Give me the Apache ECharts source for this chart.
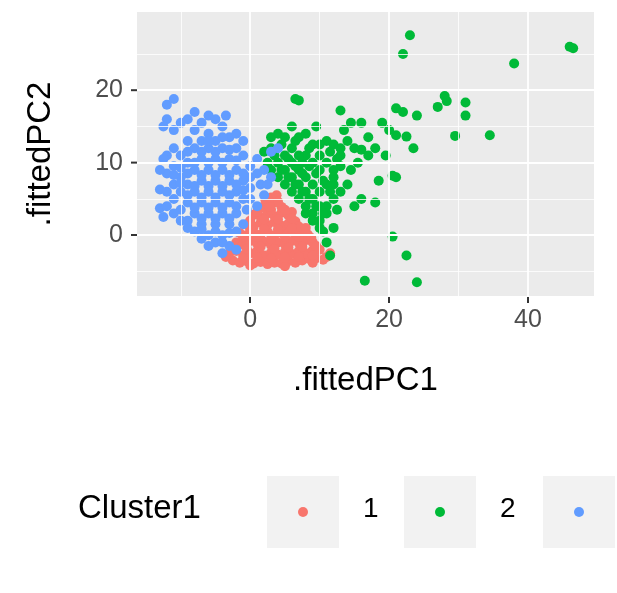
<!DOCTYPE html>
<html>
<head>
<meta charset="utf-8">
<script src="https://cdn.jsdelivr.net/npm/echarts@6/dist/echarts.min.js"></script>
<style>html,body{margin:0;padding:0;background:#fff}#c{width:617px;height:593px}</style>
</head>
<body>
<div id="c"></div>
<script>
var xTicks = [0, 20, 40];
var yTicks = [0, 10, 20];
var xMinor = [-10, 10, 30];
var yMinor = [-5, 5, 15, 25];
var clusterNames = ['1', '2', '3'];
var clusterColors = ['#F8766D', '#00BA38', '#619CFF'];

var cluster1 = [
    [-2.5,-3.5],[-1.5,-3.8],[-0.5,-3.6],[0.5,-3.9],[1.5,-3.7],[2.5,-4],[3.5,-3.8],[4.5,-3.9],[5.5,-3.6],[6.5,-3.8],
    [7.5,-3.5],[8.5,-3.3],[9.5,-3.2],[10.5,-3.4],[-3,-2.5],[-2,-2.2],[-1,-2.8],[0,-2.5],[1,-2.2],[2,-2.8],
    [3,-2.4],[4,-2.7],[5,-2.3],[6,-2.6],[7,-2.2],[8,-2.5],[9,-2.1],[10,-2],[-2,-1],[-1,-1.3],
    [0,-0.8],[1,-1.2],[2,-0.9],[3,-1.4],[4,-1],[5,-1.3],[6,-0.8],[7,-1.1],[8,-0.7],[9,-1],
    [-1.5,0.3],[-0.5,0],[0.5,0.4],[1.5,0.1],[2.5,0.5],[3.5,0],[4.5,0.3],[5.5,0.6],[6.5,0.2],[7.5,0.5],
    [8.3,0.1],[-0.5,1.5],[0.5,1.2],[1.5,1.7],[2.5,1.4],[3.5,1.8],[4.5,1.3],[5.5,1.6],[6.5,1.9],[7,1.2],
    [0.5,2.8],[1.5,2.5],[2.5,3],[3.5,2.6],[4.5,3.1],[5.5,2.7],[6,3.2],[1.5,3.8],[2.5,4.2],[3.5,4.5],
    [4.5,3.9],[3,5.2],[3.8,5.5],[2.2,4.8],[11,-3],[11.5,-2.5],[-3.5,-3],[0,-4.2],[5,-4.3],[9,-3.8],
    [-1,-3.2],[1,-3.1],[3,-3.2],[5,-3.1],[7,-3],[9,-2.8],[-2.5,-1.6],[-0.5,-1.9],[1.5,-1.6],[3.5,-1.9],
    [5.5,-1.7],[7.5,-1.6],[9.5,-1.5],[-1,-0.3],[1,-0.3],[3,-0.5],[5,-0.2],[7,-0.3],[8.8,-0.4],[0,0.8],
    [2,0.9],[4,0.8],[6,1],[8,1],[0,2],[2,2.2],[4,2.2],[6,2.3],[1,3.2],[3,3.5],[5,3.5],[4,4.6],[2.8,3.9]
];
var cluster2 = [
    [46,26],[46.5,25.8],[23,27.6],[22,25],[38,23.7],[31,18.3],[28,19.2],[28.3,18.5],[31,16.5],[34.5,13.8],
    [29.5,13.7],[27,17.7],[21,17.5],[22,17],[22.5,13.6],[21,13.8],[21,8],[20.5,8.2],[20.5,-0.2],[22.5,-2.8],
    [24,-6.5],[16.5,-6.3],[15,4],[18,4.5],[16,5],[13,17.2],[7,18.6],[6.5,18.8],[14,13],[19,15.5],
    [18,12],[17,13.5],[16,11.8],[15.5,10],[14.5,9],[13.5,14.5],[17,11],[19.5,11],[20,14.5],[24,16.5],
    [23.5,12],[18.5,7.5],[14,7],[13,6],[12.5,3.5],[12,1],[11,-1],[10.5,0.5],[11.5,-2.8],[16,15.5],
    [3,9],[4,10],[5,11],[6,12],[7,13.5],[8,14],[9,12.5],[10,11],[11,10],[12,9],
    [4,8],[5,7],[6,6],[7,5],[8,4],[9,3],[10,2],[11,4],[12,7],[13,11],
    [5,9],[6,10],[7,9],[8,8],[9,7],[10,6],[11,7],[12,5],[9,10],[10,9],
    [6,8],[7,7],[8,6],[9,5],[10,4],[11,3],[8,11],[7,11],[3,13.5],[4,14],
    [5,13.5],[2,11.5],[2.5,10],[6,15],[9.5,15],[11,13],[13,12],[12,12.5],[15,12],[14.5,15.5],
    [4.5,9],[5.5,8],[6.5,7],[7.5,6],[8.5,5],[9.5,4],[10.5,3],[6.5,9.5],[7.5,8.5],[8.5,9.5],
    [9.5,8.5],[10.5,7.5],[11.5,6],[5.5,10.5],[7.5,10],[8.5,12],[10,12.5],[11.5,11.5],[12,8],[13,9.5],
    [3.5,11],[4.5,12.5],[6.5,13],[3,12],[9,2],[10,1],[8,3],[12.5,10.5]
];
var cluster3 = [
    [-13,3.7],[-12.5,2.5],[-12,18],[-11,18.8],[-12,16],[-13,6.3],[-12.5,15],[-11,14.5],[-10,15.5],[-9,16],
    [-8,14.5],[-6,14],[-4,15],[-5,13],[-7,13],[-9,13],[-11,12],[-12,11],[-10,11],[-8,12],
    [-6,12],[-4,12],[-2,12],[-3,10.5],[-5,10.5],[-7,10.5],[-9,10],[-11,9.5],[-12,8.5],[-10,8],
    [-8,9],[-6,9],[-4,9],[-2,9],[0,9.5],[1,10.5],[2,9],[3,8],[-1,7.5],[-3,7.5],
    [-5,7.5],[-7,7.5],[-9,7],[-11,7],[-12,6],[-10,6],[-8,6],[-6,6],[-4,6],[-2,6],
    [0,6.5],[1.5,7],[2,5.5],[-1,5],[-3,4.5],[-5,4.5],[-7,4.5],[-9,4.5],[-11,5],[-10,3.5],
    [-8,3],[-6,3],[-4,3],[-2,3],[-0.5,3.5],[1,4],[-1,1.5],[-3,1.5],[-5,1.5],[-7,1.5],
    [-9,2],[-8,0.5],[-6,0],[-4,0],[-2,0.5],[-5,-1],[-3,-1.5],[-4,-2.5],[-2,-2],[-6,-1.5],
    [-7,-0.5],[-9,1],[-12,4],[-11,3],[-10,2],[-6,16.5],[-3,13.5],[-1,11],[0,8],[2.5,7],
    [-13,9],[-12.5,10.5],[-8,17],[-7,15.5],[-5,16],[-3.5,16.5],[-2,14],[3,11.5],[4,12],[-1,13],
    [-7,2.3],[-5,2.3],[-3,2.3],[-6,3.8],[-4,3.8],[-2,4],[-8,3.8],[-7,5.2],[-5,5.2],[-3,5.5],
    [-1,6.2],[-9,5.5],[-8,6.8],[-6,6.8],[-4,6.8],[-2,7],[-10,7.2],[-7,8.3],[-5,8.3],[-3,8.3],
    [-1,8.5],[-9,8.5],[-11,8.3],[-8,10],[-6,10],[-4,10],[-2,10.3],[-10,9.3],[-7,11.5],[-5,11.5],
    [-3,11.8],[-9,11.5],[-6,13],[-4,13.5],[-7,0.8],[-5,0.5],[-3,0.3],[-4,-1],[1,8.5],[0,5]
];

function lineSeries(xs, ys, w) {
    var lines = [];
    xs.forEach(function (v) { lines.push({xAxis: v}); });
    ys.forEach(function (v) { lines.push({yAxis: v}); });
    return {
        type: 'scatter', data: [], silent: true, z: 1,
        markLine: {
            silent: true, symbol: 'none', label: {show: false},
            lineStyle: {color: '#ffffff', width: w, type: 'solid'},
            data: lines, animation: false
        }
    };
}

var series = [lineSeries(xMinor, yMinor, 0.8), lineSeries(xTicks, yTicks, 1.8)];
[cluster1, cluster2, cluster3].forEach(function (d, i) {
    series.push({
        name: clusterNames[i], type: 'scatter', data: d, symbolSize: 10, z: 3,
        itemStyle: {color: clusterColors[i], opacity: 1}
    });
});

var legendItems = [];
var keyX = [267, 404, 543];
clusterNames.forEach(function (n, i) {
    legendItems.push({type: 'rect', shape: {x: keyX[i], y: 476, width: 72, height: 72}, style: {fill: '#F2F2F2'}});
    legendItems.push({type: 'circle', shape: {cx: keyX[i] + 36, cy: 512, r: 5}, style: {fill: clusterColors[i]}});
    legendItems.push({type: 'text', left: keyX[i] + 96, top: 495,
        style: {text: n, font: '28px Liberation Sans, Arial', fill: '#000'}});
});
legendItems.push({type: 'text', left: 78, top: 492,
    style: {text: 'Cluster1', font: '33px Liberation Sans, Arial', fill: '#000'}});
// axis ticks as short dark lines outside the panel
xTicks.forEach(function (v) {
    legendItems.push({type: 'line', z: 10, shape: {x1: 0, y1: 0, x2: 0, y2: 6},
        position: [250 + v * 6.95, 297], style: {stroke: '#333', lineWidth: 2}});
});
yTicks.forEach(function (v) {
    legendItems.push({type: 'line', z: 10, shape: {x1: 0, y1: 0, x2: 6, y2: 0},
        position: [131, 235 - v * 7.24], style: {stroke: '#333', lineWidth: 2}});
});

var chart = echarts.init(document.getElementById('c'));
chart.setOption({
    animation: false,
    grid: {left: 137, right: 23, top: 12, bottom: 297, backgroundColor: '#EBEBEB', show: true, borderWidth: 0},
    xAxis: {
        type: 'value', min: -16.3, max: 49.5,
        name: '.fittedPC1', nameLocation: 'middle', nameGap: 68,
        nameTextStyle: {fontSize: 33, color: '#000', fontFamily: 'Liberation Sans'},
        axisLine: {show: false},
        axisTick: {show: false},
        axisLabel: {customValues: xTicks, fontSize: 25, color: '#4D4D4D', margin: 12, fontFamily: 'Liberation Sans'},
        splitLine: {show: false}
    },
    yAxis: {
        type: 'value', min: -8.4, max: 30.8,
        name: '.fittedPC2', nameLocation: 'middle', nameGap: 80, nameRotate: 90,
        nameTextStyle: {fontSize: 33, color: '#000', fontFamily: 'Liberation Sans'},
        axisLine: {show: false},
        axisTick: {show: false},
        axisLabel: {customValues: yTicks, fontSize: 25, color: '#4D4D4D', margin: 14, fontFamily: 'Liberation Sans'},
        splitLine: {show: false}
    },
    graphic: legendItems,
    series: series
});
</script>
</body>
</html>
